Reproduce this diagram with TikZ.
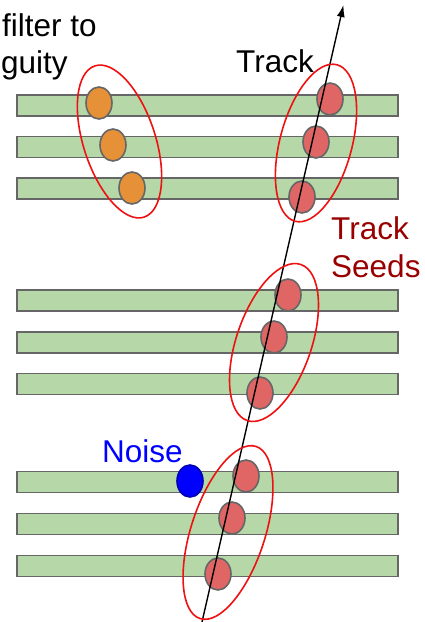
\documentclass[tikz,border=0pt]{standalone}
\usepackage{fontspec}
\setmainfont{Liberation Sans}
\usetikzlibrary{shapes.geometric,arrows.meta}
\definecolor{barfill}{HTML}{B6D7A8}
\definecolor{bardraw}{HTML}{666666}
\definecolor{hitred}{HTML}{E06666}
\definecolor{hitorange}{HTML}{E69138}
\definecolor{hitblue}{HTML}{0000FF}
\definecolor{seedred}{HTML}{EE1111}
\definecolor{darkred}{HTML}{990000}
\tikzset{
  layerbar/.style={draw=bardraw,fill=barfill,line width=1.7pt},
  hit/.style={shape=ellipse,draw=bardraw,line width=1.6pt,minimum width=26pt,minimum height=32pt,inner sep=0pt},
  redhit/.style={hit,fill=hitred},
  orangehit/.style={hit,fill=hitorange},
  bluehit/.style={hit,fill=hitblue,draw=hitblue!70!black},
  seedring/.style={shape=ellipse,draw=seedred,line width=1.6pt,inner sep=0pt},
  lbl/.style={font=\fontsize{31.5}{38}\selectfont,anchor=base west,inner sep=0pt},
  trackline/.style={line width=1.4pt,-{Latex[length=12pt,width=8pt]}}
}
\begin{document}
\begin{tikzpicture}[x=1pt,y=-1pt]
\useasboundingbox (0,0) rectangle (425,622);
% detector layers
\foreach \c/\n in {105.5/b1,147/b2,188.5/b3,300.5/b4,342.5/b5,384/b6,482/b7,524/b8,566/b9}{
  \draw[layerbar] (17,\c-10.5) rectangle (398,\c+10.5);
}
% hits
\node[orangehit] (o1) at (99,103) {};
\node[orangehit] (o2) at (113,145) {};
\node[orangehit] (o3) at (132,188) {};
\node[redhit] (r1) at (330,99) {};
\node[redhit] (r2) at (316,142) {};
\node[redhit] (r3) at (302,197) {};
\node[redhit] (r4) at (288,295) {};
\node[redhit] (r5) at (274,337) {};
\node[redhit] (r6) at (260,393) {};
\node[redhit] (r7) at (246,476) {};
\node[redhit] (r8) at (232,518) {};
\node[redhit] (r9) at (218,574) {};
\node[bluehit] (n1) at (190,481) {};
% track
\coordinate (tstart) at (202,622);
\coordinate (tend) at (343.5,5);
\draw[trackline] (tstart) -- (tend);
% seed rings
\node[seedring,minimum width=72pt,minimum height=159pt,rotate=18] (e0) at (119.5,141.5) {};
\node[seedring,minimum width=72pt,minimum height=162pt,rotate=-15] (e1) at (316,143) {};
\node[seedring,minimum width=75pt,minimum height=165pt,rotate=-19] (e2) at (274,342.5) {};
\node[seedring,minimum width=74pt,minimum height=181pt,rotate=-18] (e3) at (228,532.5) {};
% labels
\node[lbl] (t1) at (2,36.7) {filter to};
\node[lbl] (t2) at (1,73) {guity};
\node[lbl] (t3) at (236,72.7) {Track};
\node[lbl,text=darkred] (t4) at (331,239) {Track};
\node[lbl,text=darkred] (t5) at (331,277) {Seeds};
\node[lbl,text=hitblue] (t6) at (102,462) {Noise};
\end{tikzpicture}
\end{document}
